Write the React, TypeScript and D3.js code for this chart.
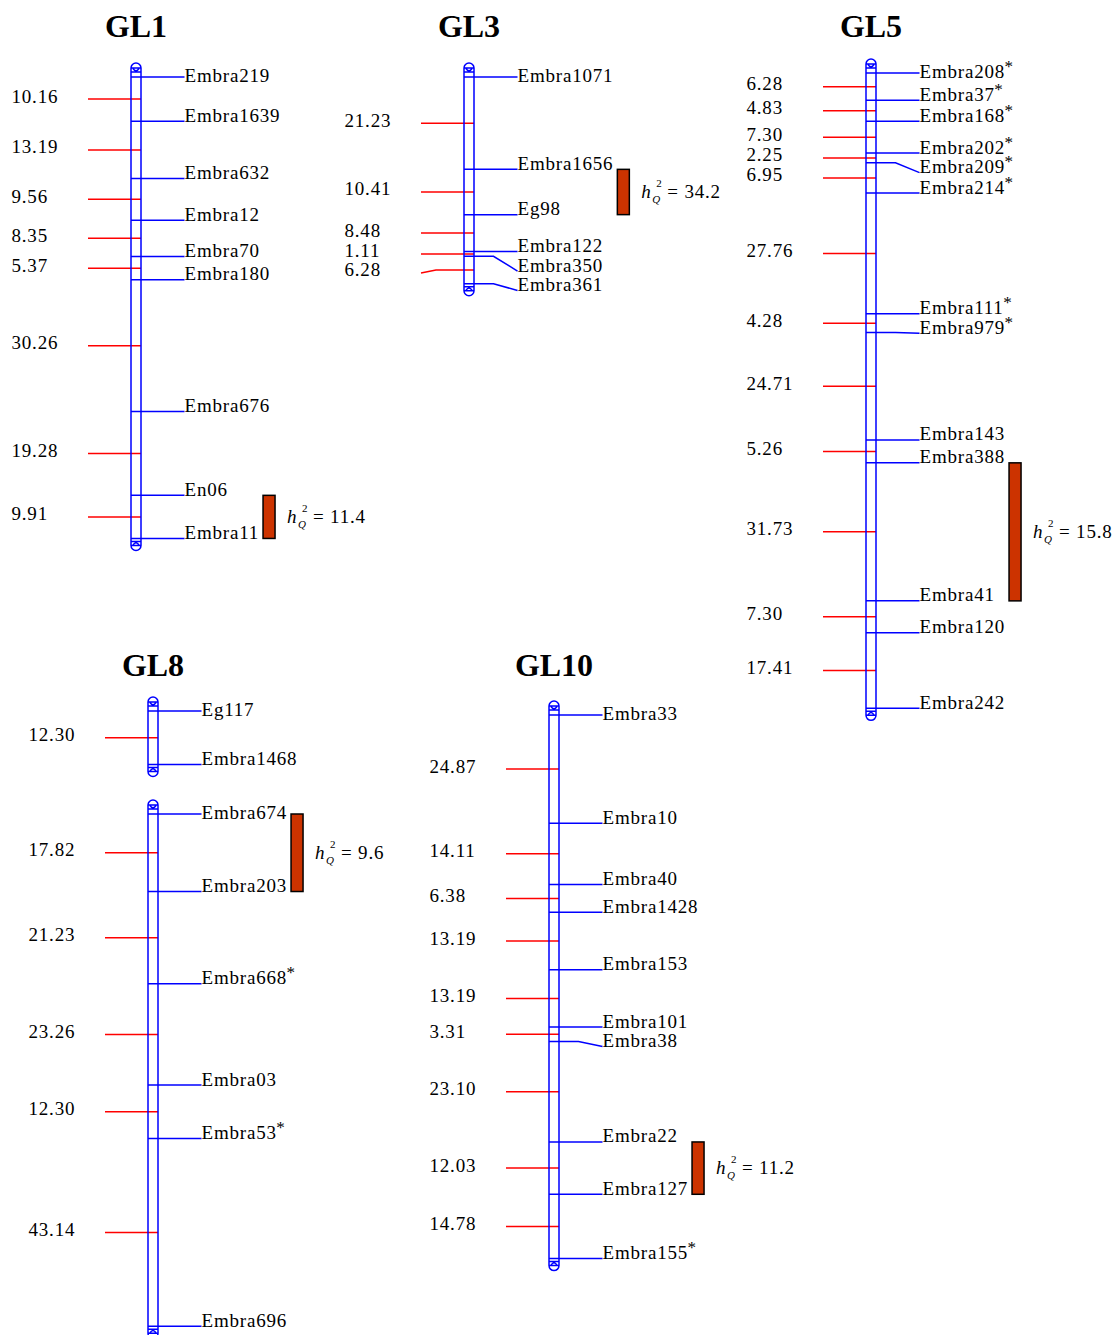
import React from "react";
import * as d3 from "d3";

// ---------- DATA ----------
const GL1_markers = ["Embra219", "Embra1639", "Embra632", "Embra12", "Embra70", "Embra180", "Embra676", "En06", "Embra11"];
const GL1_dist = [10.16, 13.19, 9.56, 8.35, 5.37, 30.26, 19.28, 9.91];

const GL3_markers = ["Embra1071", "Embra1656", "Eg98", "Embra122", "Embra350", "Embra361"];
const GL3_dist = [21.23, 10.41, 8.48, 1.11, 6.28];

const GL5_markers = ["Embra208", "Embra37", "Embra168", "Embra202", "Embra209", "Embra214", "Embra111", "Embra979", "Embra143", "Embra388", "Embra41", "Embra120", "Embra242"];
const GL5_dist = [6.28, 4.83, 7.30, 2.25, 6.95, 27.76, 4.28, 24.71, 5.26, 31.73, 7.30, 17.41];

const GL8a_markers = ["Eg117", "Embra1468"];
const GL8a_dist = [12.30];
const GL8b_markers = ["Embra674", "Embra203", "Embra668", "Embra03", "Embra53", "Embra696"];
const GL8b_dist = [17.82, 21.23, 23.26, 12.30, 43.14];

const GL10_markers = ["Embra33", "Embra10", "Embra40", "Embra1428", "Embra153", "Embra101", "Embra38", "Embra22", "Embra127", "Embra155"];
const GL10_dist = [24.87, 14.11, 6.38, 13.19, 13.19, 3.31, 23.10, 12.03, 14.78];

const starred = ["Embra208", "Embra37", "Embra168", "Embra202", "Embra209", "Embra214", "Embra111", "Embra979", "Embra668", "Embra53", "Embra155"];

const qtlFrom = ["En06", "Embra1656", "Embra388", "Embra674", "Embra22"];
const qtlTo = ["Embra11", "Eg98", "Embra41", "Embra203", "Embra127"];
const qtlH2 = ["11.4", "34.2", "15.8", "9.6", "11.2"];

// ---------- LAYOUT ----------
const W = 1112, H = 1335;
const PX_PER_CM = 4.35;
const FONT = "'Liberation Serif','Times New Roman',Times,serif";
const FS = 19;
const LS = 0.8;
const BLUE = "#0000ff";
const RED = "#ff0000";
const QTL_FILL = "#cc3300";
const SW = 1.5;

const segments = [
  { title: "GL1", titleY: 37, markers: GL1_markers, dist: GL1_dist, x0: 131, y0: 77 },
  { title: "GL3", titleY: 37, markers: GL3_markers, dist: GL3_dist, x0: 464, y0: 77 },
  { title: "GL5", titleY: 37, markers: GL5_markers, dist: GL5_dist, x0: 866, y0: 73 },
  { title: "GL8", titleY: 676, markers: GL8a_markers, dist: GL8a_dist, x0: 148, y0: 711 },
  { title: null, titleY: 0, markers: GL8b_markers, dist: GL8b_dist, x0: 148, y0: 814 },
  { title: "GL10", titleY: 676, markers: GL10_markers, dist: GL10_dist, x0: 549, y0: 715 },
];

let _ctx: CanvasRenderingContext2D | null = null;
function measure(text: string, size: number, ls = 0): number {
  if (!_ctx) {
    const c = document.createElement("canvas");
    _ctx = c.getContext("2d");
  }
  if (!_ctx) return text.length * size * 0.5;
  _ctx.font = `${size}px 'Liberation Serif'`;
  return _ctx.measureText(text).width + ls * text.length;
}

function capPath(x0: number, top: number, bottom: number) {
  const w = 10, r = 5;
  const p = d3.path();
  p.moveTo(x0, top + r); p.lineTo(x0, bottom - r);
  p.moveTo(x0 + w, top + r); p.lineTo(x0 + w, bottom - r);
  p.moveTo(x0, top + r);
  p.arc(x0 + r, top + r, r, Math.PI, 2 * Math.PI);
  p.moveTo(x0, top + r); p.lineTo(x0 + w, top + r);
  p.moveTo(x0 + 2, top + 5.5); p.quadraticCurveTo(x0 + 5, top + 10, x0 + 8, top + 5.5);
  p.moveTo(x0, top + 9); p.lineTo(x0 + w, top + 9);
  p.moveTo(x0, bottom - 9); p.lineTo(x0 + w, bottom - 9);
  p.moveTo(x0 + 2, bottom - 5.5); p.quadraticCurveTo(x0 + 5, bottom - 10, x0 + 8, bottom - 5.5);
  p.moveTo(x0, bottom - r); p.lineTo(x0 + w, bottom - r);
  p.moveTo(x0 + w, bottom - r);
  p.arc(x0 + r, bottom - r, r, 0, Math.PI);
  return p.toString();
}

function buildSegment(s: typeof segments[number]) {
  const cum = [0, ...Array.from(d3.cumsum(s.dist))];
  const total = cum[cum.length - 1];
  const y = d3.scaleLinear().domain([0, total]).range([s.y0, s.y0 + total * PX_PER_CM]);
  const my = cum.map((c) => y(c));
  const top = my[0] - 14;
  const bottom = my[my.length - 1] + 12;
  const labelX = s.x0 + 53.5;
  let prev = -Infinity;
  const conn: number[] = [];
  const textY: number[] = [];
  my.forEach((v, i) => {
    const c = Math.max(v, prev + 19.5);
    conn.push(c);
    const t = i === 0 ? Math.max(c, my[0] + 4) : c;
    textY.push(t);
    prev = t;
  });
  const ticks = s.dist.map((d, i) => (my[i] + my[i + 1]) / 2);
  let prevD = -Infinity;
  const dLab: number[] = ticks.map((t) => {
    const v = Math.max(t + 3.5, prevD + 19);
    prevD = v;
    return v;
  });
  return { ...s, my, top, bottom, labelX, conn, textY, ticks, dLab };
}

export default function App() {
  const segs = segments.map(buildSegment);

  const qtls = qtlFrom.map((f, i) => {
    const seg = segs.find((s) => s.markers.includes(f))!;
    const a = seg.markers.indexOf(f);
    const b = seg.markers.indexOf(qtlTo[i]);
    const inRange = seg.markers.slice(a, b + 1);
    const maxW = d3.max(inRange, (m) => measure(m, FS, LS) + (starred.includes(m) ? 8 : 0)) || 0;
    const x = seg.labelX + maxW + 4;
    return { x, y1: seg.my[a], y2: seg.my[b], h2: qtlH2[i] };
  });

  return (
    <svg width={W} height={H} style={{ position: "absolute", left: 0, top: 0, background: "#fff" }} fontFamily={FONT}>
      <rect x={0} y={0} width={W} height={H} fill="#fff" />
      {segs.map((s, si) => (
        <g key={si}>
          {s.title && (
            <text x={s.x0 + 5} y={s.titleY} textAnchor="middle" fontSize={32} fontWeight="bold" fill="#000">
              {s.title}
            </text>
          )}
          {s.ticks.map((t, i) => {
            const pushed = s.dLab[i] - (t + 3.5);
            const d = pushed > 0.5
              ? `M${s.x0 - 43},${t + pushed} L${s.x0 - 28},${t} L${s.x0 + 10},${t}`
              : `M${s.x0 - 43},${t} L${s.x0 + 10},${t}`;
            return <path key={"t" + i} d={d} fill="none" stroke={RED} strokeWidth={SW} />;
          })}
          {s.dist.map((d, i) => (
            <text key={"d" + i} x={s.x0 - 119.5} y={s.dLab[i]} fontSize={FS} letterSpacing={LS} fill="#000">
              {d.toFixed(2)}
            </text>
          ))}
          <path d={capPath(s.x0, s.top, s.bottom)} fill="none" stroke={BLUE} strokeWidth={SW} />
          {s.my.map((v, i) => {
            const c = s.conn[i];
            const d = c - v > 0.5
              ? `M${s.x0},${v} L${s.labelX - 24},${v} L${s.labelX},${c}`
              : `M${s.x0},${v} L${s.labelX},${v}`;
            return <path key={"m" + i} d={d} fill="none" stroke={BLUE} strokeWidth={SW} />;
          })}
          {s.markers.map((m, i) => (
            <text key={"l" + i} x={s.labelX} y={s.textY[i] + 0.5} fontSize={FS} letterSpacing={LS} fill="#000">
              {m}
              {starred.includes(m) && (
                <tspan fontSize={17} dy={-6} dx={-0.5}>*</tspan>
              )}
            </text>
          ))}
        </g>
      ))}
      {qtls.map((q, i) => {
        const cy = (q.y1 + q.y2) / 2;
        const qx = q.x + 12 + 12;
        return (
          <g key={"q" + i}>
            <rect x={q.x} y={q.y1} width={12} height={q.y2 - q.y1} fill={QTL_FILL} stroke="#000" strokeWidth={1.5} />
            <text x={qx} y={cy + 6} fontSize={FS} fontStyle="italic" fill="#000">h</text>
            <text x={qx + 15} y={cy - 5} fontSize={11} fill="#000">2</text>
            <text x={qx + 11} y={cy + 11} fontSize={11} fontStyle="italic" fill="#000">Q</text>
            <text x={qx + 26} y={cy + 6} fontSize={FS} letterSpacing={LS} fill="#000">= {q.h2}</text>
          </g>
        );
      })}
    </svg>
  );
}
